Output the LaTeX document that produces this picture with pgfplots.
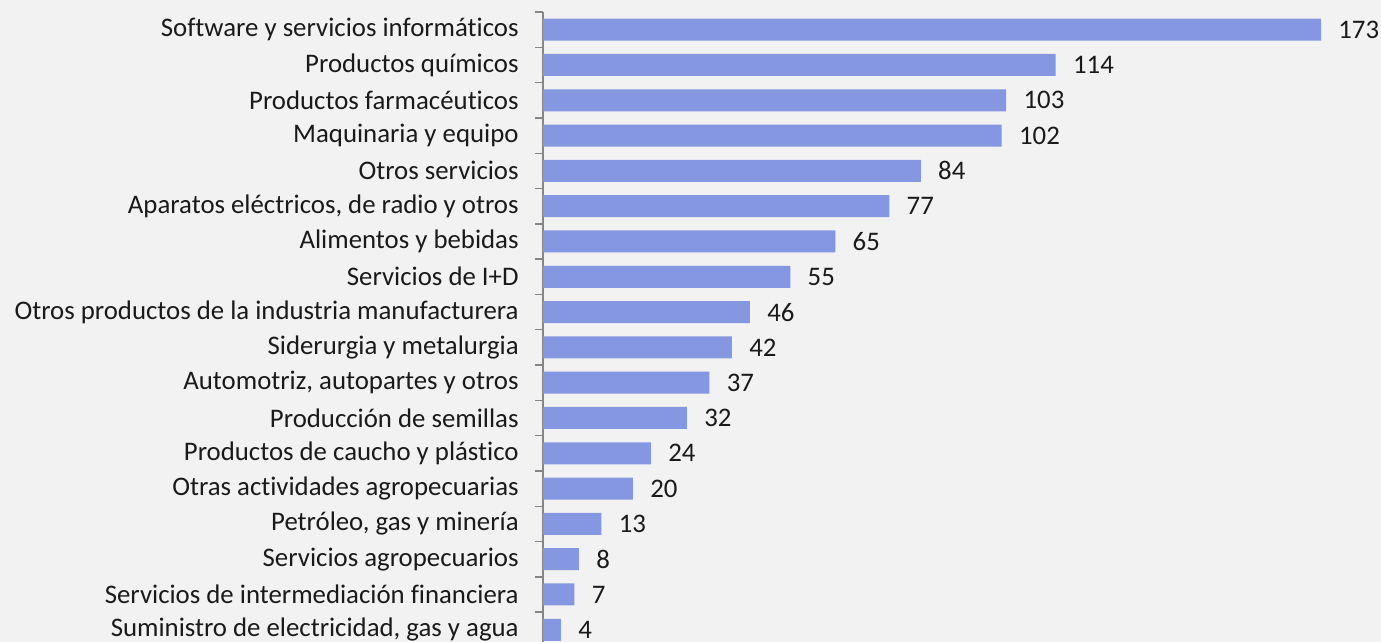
\documentclass[border=0pt]{standalone}
\usepackage{fontspec}
\setmainfont{Carlito}[Ligatures=NoCommon]
\usepackage{pgfplots}
\pgfplotsset{compat=1.18}
\definecolor{bg}{HTML}{F2F2F2}
\definecolor{barc}{HTML}{8497E0}
\definecolor{axc}{HTML}{868686}
\definecolor{txt}{HTML}{1A1A1A}

\pgfplotstableread[col sep=comma]{
idx,val
0,173
1,114
2,103
3,102
4,84
5,77
6,65
7,55
8,46
9,42
10,37
11,32
12,24
13,20
14,13
15,8
16,7
17,4
}\datatab

\begin{document}
\begin{tikzpicture}[x=1pt,y=1pt]
\useasboundingbox (0,0) rectangle (690.5,-321);
\fill[bg] (0,0) rectangle (690.5,-321);
\clip (0,0) rectangle (690.5,-321);
\begin{axis}[
  at={(271.5pt,-6pt)}, anchor=north west,
  scale only axis, width=389pt, height=317.7pt,
  xbar, bar width=11pt, bar shift=0pt,
  xmin=0, xmax=173, ymin=-0.5, ymax=17.5, y dir=reverse,
  axis y line*=left, axis x line=none,
  axis line style={axc, line width=0.7pt},
  ytick={0,...,17}, major tick length=0pt,
  minor ytick={-0.5,0.5,...,17.5}, minor tick length=4pt,
  tick align=outside,
  minor tick style={axc, line width=0.7pt},
  yticklabels={{Software y servicios informáticos},{Productos químicos},{Productos farmacéuticos},{Maquinaria y equipo},{Otros servicios},{Aparatos eléctricos, de radio y otros},{Alimentos y bebidas},{Servicios de I+D},{Otros productos de la industria manufacturera},{Siderurgia y metalurgia},{Automotriz, autopartes y otros},{Producción de semillas},{Productos de caucho y plástico},{Otras actividades agropecuarias},{Petróleo, gas y minería},{Servicios agropecuarios},{Servicios de intermediación financiera},{Suministro de electricidad, gas y agua}},
  yticklabel style={anchor=east, inner sep=0pt, xshift=-12pt, text=txt, font=\fontsize{13.4}{15}\selectfont},
  /pgf/number format/assume math mode=true,
  nodes near coords,
  nodes near coords style={anchor=west, inner sep=0pt, xshift=8.5pt, text=txt, font=\fontsize{13.4}{15}\selectfont},
  clip=false,
]
\addplot[fill=barc, draw=none] table[x=val, y=idx] {\datatab};
\end{axis}
\end{tikzpicture}
\end{document}
